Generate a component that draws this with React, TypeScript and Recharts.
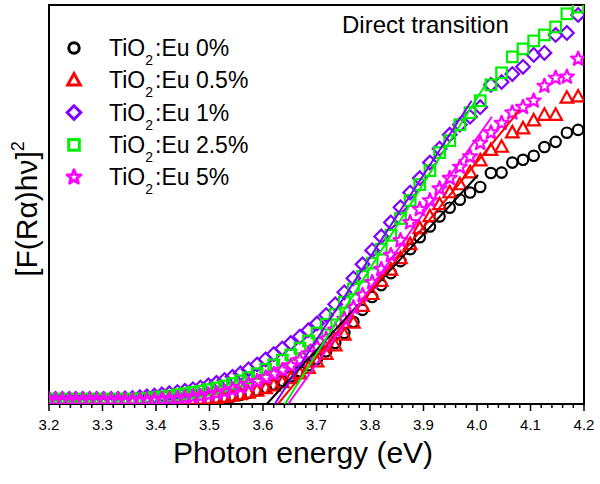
import React from "react";
import { ReferenceArea, Scatter, ScatterChart, XAxis, YAxis } from "recharts";

// photon energy of each measured point (eV)
const energy = [
  3.2, 3.212, 3.225, 3.238, 3.25, 3.263, 3.276, 3.289, 3.302, 3.316,
  3.329, 3.342, 3.356, 3.37, 3.383, 3.397, 3.411, 3.425, 3.44, 3.454,
  3.469, 3.483, 3.498, 3.513, 3.528, 3.543, 3.558, 3.573, 3.589, 3.605,
  3.62, 3.636, 3.652, 3.669, 3.685, 3.701, 3.718, 3.735, 3.752, 3.769,
  3.786, 3.804, 3.821, 3.839, 3.857, 3.875, 3.893, 3.912, 3.93, 3.949,
  3.968, 3.987, 4.006, 4.026, 4.046, 4.066, 4.086, 4.106, 4.126, 4.147,
  4.168, 4.189,
];

const eu0 = [
  0.9, 0.9, 0.9, 0.9, 0.9, 0.9, 0.9, 0.9, 0.9, 0.9,
  0.9, 0.9, 0.9, 0.9, 0.9, 0.9, 0.9, 0.9, 0.9, 0.9,
  1.0, 1.1, 1.2, 1.4, 1.6, 1.9, 2.3, 2.8, 3.4, 4.1,
  4.9, 5.8, 6.9, 8.2, 9.7, 11.3, 13.2, 15.3, 17.8, 20.6,
  23.6, 26.8, 29.8, 32.8, 35.8, 38.8, 41.8, 44.5, 47.0, 49.2,
  51.2, 53.0, 54.4, 57.9, 58.0, 60.5, 61.2, 62.2, 64.4, 65.7,
  68.0, 68.7,
];

const eu05 = [
  0.9, 0.9, 0.9, 0.9, 0.9, 0.9, 0.9, 0.9, 0.9, 0.9,
  0.9, 0.9, 0.9, 0.9, 0.9, 0.9, 0.9, 0.9, 1.0, 1.0,
  1.1, 1.2, 1.3, 1.5, 1.7, 2.0, 2.4, 2.8, 3.3, 3.9,
  4.6, 5.4, 6.4, 7.6, 9.0, 10.6, 12.5, 14.6, 17.3, 20.3,
  24.5, 27.5, 30.8, 33.6, 36.5, 40.0, 44.0, 47.0, 50.0, 53.0,
  55.0, 58.0, 61.0, 63.6, 64.4, 68.0, 69.0, 71.0, 72.4, 72.4,
  76.7, 77.0,
];

const eu1 = [
  1.3, 1.3, 1.3, 1.3, 1.3, 1.3, 1.3, 1.3, 1.3, 1.3,
  1.3, 1.4, 1.5, 1.7, 1.9, 2.1, 2.4, 2.7, 3.0, 3.3,
  3.7, 4.1, 4.7, 5.3, 6.0, 6.8, 7.7, 8.7, 9.9, 11.2,
  12.5, 13.9, 15.3, 16.9, 18.5, 20.2, 22.3, 25.0, 28.0, 31.5,
  35.0, 38.5, 42.0, 45.5, 49.3, 53.0, 56.6, 60.5, 64.0, 67.5,
  70.0, 72.0, 74.4, 80.0, 80.7, 82.7, 84.5, 87.5, 88.0, 92.5,
  93.0, 97.5,
];

const eu25 = [
  1.2, 1.2, 1.2, 1.2, 1.2, 1.2, 1.2, 1.2, 1.2, 1.2,
  1.2, 1.2, 1.2, 1.3, 1.4, 1.6, 1.8, 2.0, 2.3, 2.6,
  2.9, 3.2, 3.6, 4.0, 4.5, 5.1, 5.8, 6.6, 7.6, 8.7,
  9.8, 11.0, 12.3, 14.0, 15.8, 17.8, 20.0, 22.5, 25.5, 28.8,
  32.0, 35.3, 38.8, 42.3, 46.5, 51.0, 55.0, 58.5, 63.0, 66.0,
  70.0, 73.0, 76.0, 80.0, 83.0, 87.0, 89.0, 91.0, 92.5, 94.5,
  97.8, 99.5,
];

const eu5 = [
  1.0, 1.0, 1.0, 1.0, 1.0, 1.0, 1.0, 1.0, 1.0, 1.0,
  1.0, 1.0, 1.0, 1.0, 1.0, 1.1, 1.2, 1.3, 1.4, 1.6,
  1.8, 2.0, 2.3, 2.7, 3.1, 3.6, 4.2, 4.9, 5.7, 6.6,
  7.5, 8.5, 9.6, 11.0, 12.6, 14.3, 16.3, 18.6, 21.3, 24.2,
  27.3, 30.5, 33.8, 37.3, 41.0, 45.5, 48.8, 51.0, 54.0, 56.6,
  59.4, 62.0, 65.4, 68.0, 70.4, 73.0, 74.4, 76.0, 79.7, 81.7,
  82.0, 86.5,
];

// linear fits [energy, value] at both ends
const fit0 = [[3.607, 0], [4.002, 57.4]];
const fit05 = [[3.628, 0], [4.08, 73.7]];
const fit1 = [[3.622, 0], [3.99, 76]];
const fit25 = [[3.641, 0], [4.019, 80.7]];
const fit5 = [[3.647, 0], [4.028, 72]];

const labels = ["0%", "0.5%", "1%", "2.5%", "5%"];

const xTicks = [
  3.2, 3.22, 3.24, 3.26, 3.28, 3.3, 3.32, 3.34, 3.36, 3.38,
  3.4, 3.42, 3.44, 3.46, 3.48, 3.5, 3.52, 3.54, 3.56, 3.58,
  3.6, 3.62, 3.64, 3.66, 3.68, 3.7, 3.72, 3.74, 3.76, 3.78,
  3.8, 3.82, 3.84, 3.86, 3.88, 3.9, 3.92, 3.94, 3.96, 3.98,
  4.0, 4.02, 4.04, 4.06, 4.08, 4.1, 4.12, 4.14, 4.16, 4.18, 4.2,
];

const font = "'Liberation Sans', Arial, Helvetica, sans-serif";

type Kind = "circle" | "triangle" | "diamond" | "square" | "star";

const series: { kind: Kind; color: string; values: number[]; fit: number[][] }[] = [
  { kind: "circle", color: "#000000", values: eu0, fit: fit0 },
  { kind: "triangle", color: "#ff0000", values: eu05, fit: fit05 },
  { kind: "diamond", color: "#8000ff", values: eu1, fit: fit1 },
  { kind: "square", color: "#00ee00", values: eu25, fit: fit25 },
  { kind: "star", color: "#ff00ff", values: eu5, fit: fit5 },
];

function starPath(cx: number, cy: number, R: number, r: number) {
  let d = "";
  for (let k = 0; k < 10; k++) {
    const rad = k % 2 === 0 ? R : r;
    const a = -Math.PI / 2 + (k * Math.PI) / 5;
    d += (k === 0 ? "M" : "L") + (cx + rad * Math.cos(a)).toFixed(2) + "," + (cy + rad * Math.sin(a)).toFixed(2);
  }
  return d + "Z";
}

function Marker({ cx, cy, kind, color, sw = 2.2 }: { cx: number; cy: number; kind: Kind; color: string; sw?: number }) {
  const st = { fill: "none", stroke: color, strokeWidth: sw };
  if (cx == null || cy == null) return <g />;
  switch (kind) {
    case "circle":
      return <circle cx={cx} cy={cy} r={5.2} {...st} />;
    case "triangle":
      return <polygon points={`${cx},${cy - 6.8} ${cx + 6.3},${cy + 4.7} ${cx - 6.3},${cy + 4.7}`} {...st} />;
    case "diamond":
      return <polygon points={`${cx},${cy - 6.8} ${cx + 6.8},${cy} ${cx},${cy + 6.8} ${cx - 6.8},${cy}`} {...st} />;
    case "square":
      return <rect x={cx - 5.3} y={cy - 5.3} width={10.6} height={10.6} {...st} />;
    default:
      return <path d={starPath(cx, cy, 7.3, 3.1)} {...st} strokeLinejoin="round" />;
  }
}

function XTick(props: any) {
  const { x, y, payload } = props;
  const v = payload.value as number;
  const major = Math.abs(v * 10 - Math.round(v * 10)) < 1e-6;
  return (
    <g>
      <line x1={x} x2={x} y1={y} y2={y + (major ? 7 : 4)} stroke="#000" strokeWidth={1.5} />
      {major && (
        <text x={x} y={y + 26} textAnchor="middle" fontSize={15} fontFamily={font} fill="#000">
          {v.toFixed(1)}
        </text>
      )}
    </g>
  );
}

export default function App() {
  return (
    <div style={{ position: "absolute", left: 0, top: 0, width: 600, height: 484, background: "#fff" }}>
      <ScatterChart width={600} height={484} margin={{ top: 5, right: 16, bottom: 0, left: 49 }}>
        <XAxis
          type="number"
          dataKey="x"
          domain={[3.2, 4.2]}
          ticks={xTicks}
          interval={0}
          tick={<XTick />}
          tickLine={false}
          tickSize={0}
          tickMargin={0}
          axisLine={false}
          height={80}
          allowDataOverflow
        />
        <YAxis type="number" dataKey="y" domain={[0, 100]} hide allowDataOverflow />
        <ReferenceArea x1={3.2} x2={4.2} y1={0} y2={100} fill="none" stroke="#000" strokeWidth={2} />
        {series.map((s, i) => (
          <Scatter
            key={"pts" + i}
            data={energy.map((x, j) => ({ x, y: s.values[j] }))}
            isAnimationActive={false}
            shape={(p: any) => <Marker cx={p.cx} cy={p.cy} kind={s.kind} color={s.color} />}
          />
        ))}
        {series.map((s, i) => (
          <Scatter
            key={"fit" + i}
            data={s.fit.map(([x, y]) => ({ x, y }))}
            isAnimationActive={false}
            line={{ stroke: s.color, strokeWidth: 2 }}
            shape={() => <g />}
          />
        ))}
      </ScatterChart>

      <svg width={600} height={484} style={{ position: "absolute", left: 0, top: 0, pointerEvents: "none" }}>
        <text x={342} y={33} fontSize={24} fontFamily={font} fill="#000">
          Direct transition
        </text>
        {series.map((s, i) => {
          const cy = 48 + i * 32.3;
          return (
            <g key={"lg" + i}>
              <Marker cx={74} cy={cy} kind={s.kind} color={s.color} sw={3} />
              <text x={109} y={cy + 8} fontSize={23} fontFamily={font} fill="#000">
                <tspan>TiO</tspan>
                <tspan fontSize={14} dy={9}>2</tspan>
                <tspan dy={-9} dx={2}>:Eu {labels[i]}</tspan>
              </text>
            </g>
          );
        })}
        <text x={303} y={463} textAnchor="middle" fontSize={30} fontFamily={font} fill="#000">
          Photon energy (eV)
        </text>
        <text
          x={37}
          y={209}
          textAnchor="middle"
          fontSize={30}
          fontFamily={font}
          fill="#000"
          transform="rotate(-90 37 209)"
        >
          <tspan>[F(Rα)hν]</tspan>
          <tspan fontSize={18} dy={-13}>2</tspan>
        </text>
      </svg>
    </div>
  );
}
